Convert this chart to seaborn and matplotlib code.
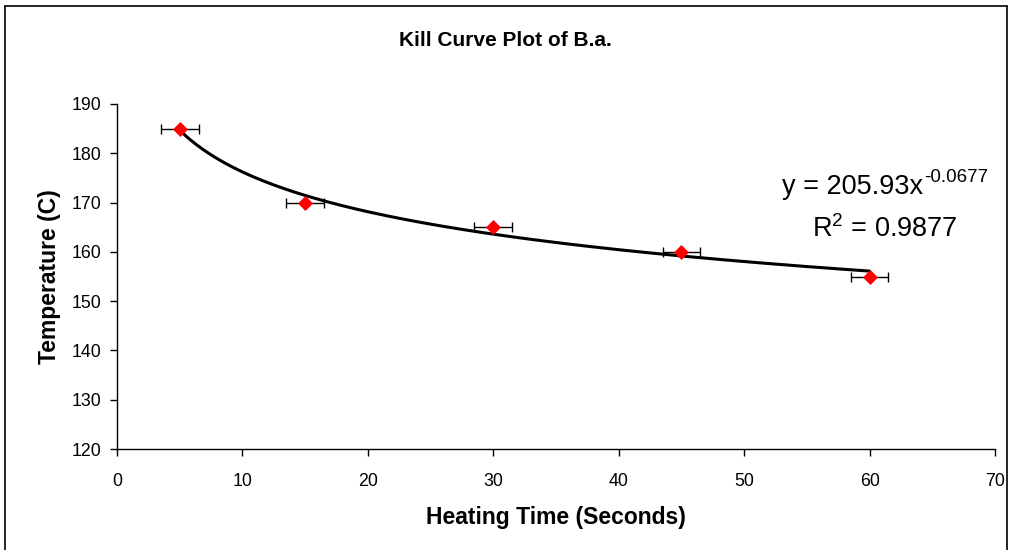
import numpy as np
import pandas as pd
import matplotlib
matplotlib.use("Agg")
import matplotlib.pyplot as plt
from matplotlib.lines import Line2D
import seaborn as sns

# Data
heating_time = [5, 15, 30, 45, 60]
temperature = [185, 170, 165, 160, 155]
time_err = [1.5, 1.5, 1.5, 1.5, 1.5]
x_ticks = [0, 10, 20, 30, 40, 50, 60, 70]
y_ticks = [120, 130, 140, 150, 160, 170, 180, 190]

sns.set_style("white")
plt.rcParams['font.family'] = ['Liberation Sans', 'DejaVu Sans']
plt.rcParams['text.color'] = 'black'
plt.rcParams['axes.labelcolor'] = 'black'
plt.rcParams['xtick.color'] = 'black'
plt.rcParams['ytick.color'] = 'black'

fig = plt.figure(figsize=(10.1, 5.5), dpi=100)
ax = fig.add_axes([117/1010, 1-449/550, (995-117)/1010, (449-104)/550])

df = pd.DataFrame({"t": heating_time, "T": temperature})

# power trendline fit (log-log least squares)
b, loga = np.polyfit(np.log(df["t"]), np.log(df["T"]), 1)
a = np.exp(loga)
xs = np.linspace(min(heating_time), max(heating_time), 200)
trend = pd.DataFrame({"t": xs, "T": a * xs ** b})
sns.lineplot(data=trend, x="t", y="T", ax=ax, color="black", linewidth=2.2, zorder=2)

ax.errorbar(heating_time, temperature, xerr=time_err, fmt="none", ecolor="black",
            elinewidth=1.0, capsize=3.3, capthick=1.0, zorder=3)
sns.scatterplot(data=df, x="t", y="T", ax=ax, marker="D", color="red", s=50,
                edgecolor="red", zorder=4)

ax.set_xlim(0, 70)
ax.set_ylim(120, 190)
ax.set_xticks(x_ticks)
ax.set_yticks(y_ticks)
ax.tick_params(axis="y", labelsize=12.8, direction="out", length=5, width=1,
               color="black", left=True, pad=6)
ax.tick_params(axis="x", labelsize=12.8, direction="out", length=5, width=1,
               color="black", bottom=True, pad=12)
for side in ["top", "right"]:
    ax.spines[side].set_visible(False)
for side in ["left", "bottom"]:
    ax.spines[side].set_color("black")
    ax.spines[side].set_linewidth(1)

ax.set_xlabel("Heating Time (Seconds)", fontsize=16.5, fontweight="bold", labelpad=12)
ax.set_ylabel("Temperature (C)", fontsize=16.5, fontweight="bold", labelpad=8)
fig.text(0.5, 1-40/550, "Kill Curve Plot of B.a.", ha="center", va="center",
         fontsize=15, fontweight="bold")

# trendline equation: main part + superscript, placed with measured extents
main = fig.text(782/1010, 1-187/550, "y = 205.93x", ha="left", va="center", fontsize=19.5)
fig.canvas.draw()
bb = main.get_window_extent()
fig.text((bb.x1 + 1)/1010, 1-177/550, "-0.0677", ha="left", va="center", fontsize=13.5)
fig.text(812/1010, 1-229/550, r"R$^{\mathregular{2}}$ = 0.9877", ha="left", va="center", fontsize=19.5)

# outer chart border (left, top, right)
fig.add_artist(Line2D([5/1010, 5/1010], [0, 1-6/550], color="black", linewidth=1.2))
fig.add_artist(Line2D([5/1010, 1007/1010], [1-6/550, 1-6/550], color="black", linewidth=1.2))
fig.add_artist(Line2D([1007/1010, 1007/1010], [0, 1-6/550], color="black", linewidth=1.2))

fig.savefig("out.png", dpi=100)
